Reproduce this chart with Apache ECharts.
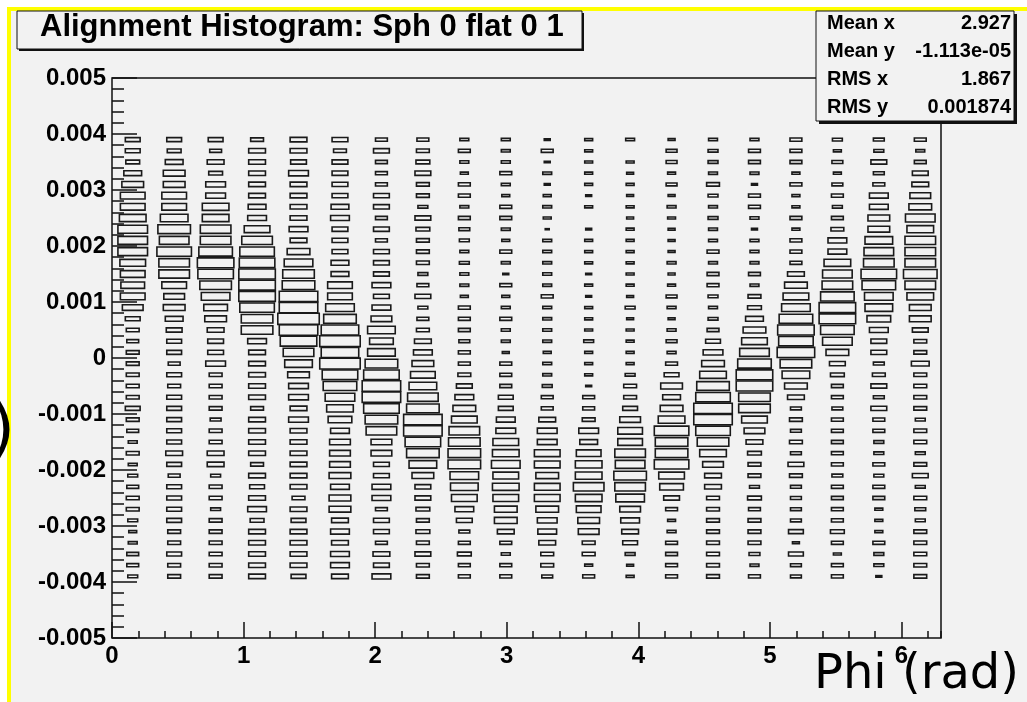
<!DOCTYPE html>
<html>
<head>
<meta charset="utf-8">
<script src="https://cdn.jsdelivr.net/npm/echarts/dist/echarts.min.js"></script>
<style>
  html, body { margin: 0; padding: 0; background: #fff; }
  #main { width: 1027px; height: 702px; }
</style>
</head>
<body>
<div id="main"></div>
<script>
// histogram binning: 20 bins in phi, 40 bins in y
const xMin = 0;
const xMax = 6.3;
const xStep = 0.315;
const yTop = 0.004;
const yStep = 0.0002;

// box sizes, one array per phi bin, rows from y=0.004 down to y=-0.004
const c01 = [15,15,14,18,22,25,25,27,30,30,30,26,25,24,25,21,15,13,12,13,13,13,13,13,15,13,12,9,13,9,10,12,13,13,10,8,9,12,12,10];
const c02 = [15,14,18,22,22,25,25,28,33,30,35,31,31,25,21,22,18,16,15,15,12,15,13,15,15,15,15,15,17,15,12,15,15,15,15,13,13,15,13,13];
const c03 = [15,12,17,14,20,20,27,27,31,31,34,37,36,32,29,24,22,17,16,16,20,13,13,13,13,11,13,13,17,17,10,13,13,10,13,13,13,13,13,13];
const c04 = [13,17,17,17,17,17,18,19,26,31,35,36,37,37,37,35,32,32,19,17,17,17,17,17,13,17,17,17,17,13,17,15,17,19,14,17,17,17,17,17];
const c05 = [17,17,16,20,17,17,17,17,19,17,23,29,32,33,39,39,42,39,37,31,28,22,20,20,17,20,17,17,17,17,17,17,13,17,15,17,17,17,17,15];
const c06 = [16,13,16,16,16,16,18,19,16,16,16,18,18,25,25,29,33,38,41,38,41,36,34,30,27,24,19,21,21,21,22,19,22,22,17,19,17,19,19,17];
const c07 = [12,16,12,12,12,16,16,12,16,12,16,16,16,19,16,19,21,28,24,28,33,36,39,39,36,33,31,21,21,16,16,19,19,12,16,16,12,17,16,19];
const c08 = [12,13,14,16,13,13,10,16,14,13,13,13,10,12,16,10,12,13,17,19,22,25,28,31,33,39,39,36,33,28,22,16,16,14,13,14,13,16,13,13];
const c09 = [9,12,9,8,12,12,9,12,11,10,9,10,9,9,8,12,12,12,11,12,12,13,16,19,23,26,31,32,33,33,29,28,26,19,16,11,12,14,12,12];
const c10 = [9,9,9,12,9,8,12,12,9,8,12,9,6,12,8,9,12,9,9,7,12,12,12,15,15,19,20,26,27,29,26,27,26,23,23,17,12,9,12,12];
const c11 = [6,12,6,9,6,8,9,8,4,9,9,9,9,9,12,9,9,9,9,8,9,9,10,12,12,17,20,20,26,26,23,26,26,23,20,19,17,13,13,11];
const c12 = [8,8,8,8,8,6,8,0,6,8,8,8,6,8,6,8,8,8,10,8,8,8,6,12,12,13,20,18,25,27,27,31,27,25,22,21,13,13,8,12];
const c13 = [9,0,8,7,8,7,8,7,8,8,8,8,8,8,7,10,7,8,8,8,8,10,13,13,15,21,25,25,31,30,33,31,29,21,19,17,15,10,7,8];
const c14 = [7,11,11,8,11,7,9,8,7,7,7,9,7,8,11,9,7,9,11,9,12,15,22,18,23,27,35,33,33,35,26,24,16,12,8,9,12,12,12,12];
const c15 = [9,10,10,9,13,10,9,10,9,9,12,9,12,12,10,9,10,12,15,20,23,27,33,35,39,39,35,32,27,21,17,17,13,13,13,13,13,13,13,13];
const c16 = [9,12,12,9,6,12,12,9,6,9,9,9,12,9,13,14,18,23,26,30,34,37,37,32,32,26,21,17,14,13,13,10,14,12,13,13,13,11,9,12];
const c17 = [12,12,12,8,12,8,8,12,8,12,12,12,17,23,26,29,34,37,35,38,32,28,23,17,11,13,11,13,11,16,13,11,11,11,11,15,7,15,11,11];
const c18 = [10,8,11,8,11,12,10,12,13,19,19,27,30,31,34,37,37,34,30,23,16,14,12,12,11,12,12,12,12,12,11,12,12,12,12,14,12,8,12,12];
const c19 = [11,10,16,11,12,19,19,22,22,28,30,31,36,34,29,28,24,19,16,16,11,13,16,11,16,12,12,10,10,12,10,12,12,8,8,8,12,10,10,6];
const c20 = [12,9,12,16,17,21,23,30,27,31,31,31,34,31,27,22,22,16,13,13,18,13,13,13,13,10,13,13,10,13,16,10,13,11,10,13,13,13,13,13];

const columns = [c01,c02,c03,c04,c05,c06,c07,c08,c09,c10,c11,c12,c13,c14,c15,c16,c17,c18,c19,c20];
const boxMax = 42;

const titleText = "Alignment Histogram: Sph 0 flat 0 1";
const statNames = ["Mean x", "Mean y", "RMS x", "RMS y"];
const statValues = ["2.927", "-1.113e-05", "1.867", "0.001874"];
const xTitle = "Phi (rad)";

const bg = "#f2f2f2";
const ink = "#000";
const labelFont = "Liberation Sans, Arial, sans-serif";

const boxes = [];
columns.forEach(function (col, i) {
  const phi = xMin + (i + 0.5) * xStep;
  col.forEach(function (v, k) {
    if (v > 0) boxes.push([phi, yTop - (k + 0.5) * yStep, v]);
  });
});

const myChart = echarts.init(document.getElementById("main"));

// ROOT style panes: title, stats box, yellow slide border
const graphics = [
  { type: "rect", z: 1, shape: { x: 0, y: 0, width: 1027, height: 7 }, style: { fill: "#fff" } },
  { type: "rect", z: 1, shape: { x: 0, y: 0, width: 7, height: 702 }, style: { fill: "#fff" } },
  { type: "rect", z: 2, shape: { x: 7, y: 7, width: 1020, height: 4 }, style: { fill: "#ffff00" } },
  { type: "rect", z: 2, shape: { x: 7, y: 7, width: 4, height: 695 }, style: { fill: "#ffff00" } },
  { type: "text", z: 3, x: -10, y: 433, style: { text: ")", font: "64px DejaVu Sans", fill: ink, verticalAlign: "middle" } },

  { type: "rect", z: 10, shape: { x: 19, y: 13, width: 565, height: 38 }, style: { fill: "#111" } },
  { type: "rect", z: 11, shape: { x: 17, y: 11, width: 565, height: 38 }, style: { fill: bg, stroke: "#111", lineWidth: 1 } },
  { type: "text", z: 12, x: 40, y: 27, style: { text: titleText, font: "bold 31px " + labelFont, fill: ink, verticalAlign: "middle" } },

  { type: "rect", z: 10, shape: { x: 819, y: 14, width: 198, height: 110 }, style: { fill: "#111" } },
  { type: "rect", z: 11, shape: { x: 816, y: 11, width: 198, height: 110 }, style: { fill: bg, stroke: "#111", lineWidth: 1 } },

  { type: "text", z: 12, x: 814, y: 676, style: { text: xTitle, font: "48px DejaVu Sans", fill: ink, verticalAlign: "middle" } },
];

statNames.forEach(function (name, i) {
  const y = 23 + i * 28;
  graphics.push({ type: "text", z: 12, x: 827, y: y, style: { text: name, font: "bold 20px " + labelFont, fill: ink, verticalAlign: "middle" } });
  graphics.push({ type: "text", z: 12, x: 1011, y: y, style: { text: statValues[i], font: "bold 20px " + labelFont, fill: ink, align: "right", verticalAlign: "middle" } });
});

const option = {
  backgroundColor: bg,
  animation: false,
  grid: {
    left: 112,
    right: 1027 - 941,
    top: 78,
    bottom: 702 - 638,
    show: true,
    borderColor: "#111",
    borderWidth: 1.5,
    backgroundColor: "transparent",
  },
  xAxis: [
    {
      type: "value",
      min: xMin,
      max: xMax,
      interval: 1,
      axisLine: { show: false, onZero: false },
      axisTick: { inside: true, length: 16, lineStyle: { color: "#111", width: 1.5 } },
      splitLine: { show: false },
      axisLabel: {
        showMaxLabel: false,
        margin: 6,
        color: ink,
        fontFamily: labelFont,
        fontWeight: "bold",
        fontSize: 24,
      },
    },
    {
      type: "value",
      position: "bottom",
      min: xMin,
      max: xMax,
      interval: 0.2,
      axisLine: { show: false, onZero: false },
      axisTick: { inside: true, length: 7, lineStyle: { color: "#111", width: 1.5 } },
      splitLine: { show: false },
      axisLabel: { show: false },
    },
  ],
  yAxis: {
    type: "value",
    min: -0.005,
    max: 0.005,
    interval: 0.001,
    axisLine: { show: false, onZero: false },
    axisTick: { inside: true, length: 25, lineStyle: { color: "#111", width: 1.5 } },
    minorTick: { show: true, splitNumber: 5, length: 12, lineStyle: { color: "#111", width: 1.5 } },
    splitLine: { show: false },
    axisLabel: {
      margin: 6,
      color: ink,
      fontFamily: labelFont,
      fontWeight: "bold",
      fontSize: 24,
      formatter: function (v) {
        const r = Math.round(v * 1000) / 1000;
        return r === 0 ? "0" : r.toFixed(3);
      },
    },
  },
  graphic: graphics,
  series: [
    {
      type: "custom",
      xAxisIndex: 0,
      data: boxes,
      renderItem: function (params, api) {
        const c = api.coord([api.value(0), api.value(1)]);
        const s = api.size([xStep, yStep]);
        const r = api.value(2) / boxMax;
        const w = s[0] * r;
        const h = s[1] * r;
        return {
          type: "rect",
          shape: { x: c[0] - w / 2, y: c[1] - h / 2, width: w, height: h },
          style: { fill: "none", stroke: "#1a1a1a", lineWidth: 1.6 },
        };
      },
    },
  ],
};

myChart.setOption(option);
</script>
</body>
</html>
